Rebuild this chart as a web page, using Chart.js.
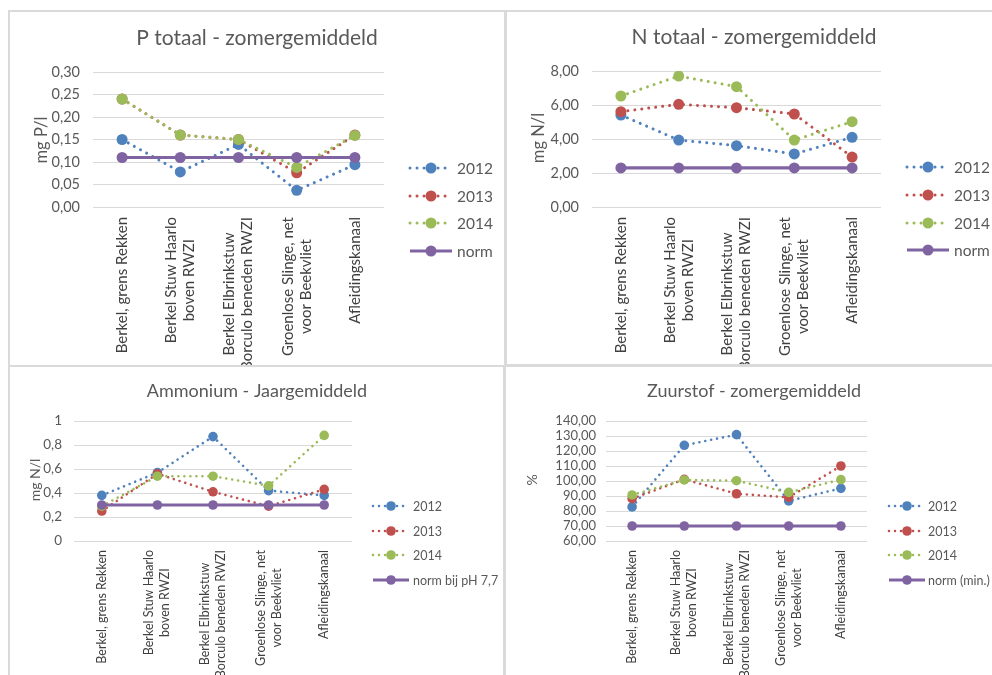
<!DOCTYPE html>
<html>
<head>
<meta charset="utf-8">
<script src="https://cdn.jsdelivr.net/npm/chart.js@4"></script>
<style>
  html, body { margin: 0; padding: 0; background: #ffffff; }
  body { width: 992px; height: 675px; position: relative; overflow: hidden; }
  canvas { position: absolute; }
  .frame { position: absolute; box-sizing: border-box; border: 2px solid #DADADA; pointer-events: none; }
</style>
</head>
<body>
<canvas id="c1" width="497" height="356" style="left:8px;top:10px"></canvas>
<canvas id="c2" width="487" height="355" style="left:505px;top:10px"></canvas>
<canvas id="c3" width="496" height="309" style="left:8px;top:366px"></canvas>
<canvas id="c4" width="488" height="309" style="left:504px;top:366px"></canvas>
<div class="frame" style="left:8px;top:10px;width:498px;height:357px"></div>
<div class="frame" style="left:505px;top:10px;width:500px;height:356px"></div>
<div class="frame" style="left:8px;top:365px;width:497px;height:320px"></div>
<div class="frame" style="left:504px;top:365px;width:500px;height:320px"></div>
<script>
// ---------- data ----------
const categories = [
  ["Berkel, grens Rekken"],
  ["Berkel Stuw Haarlo", "boven RWZI"],
  ["Berkel Elbrinkstuw", "Borculo beneden RWZI"],
  ["Groenlose Slinge, net", "voor Beekvliet"],
  ["Afleidingskanaal"]
];
const seriesNames = ["2012", "2013", "2014"];

const pTotaal2012 = [0.150, 0.078, 0.139, 0.037, 0.094];
const pTotaal2013 = [0.240, 0.160, 0.150, 0.076, 0.160];
const pTotaal2014 = [0.240, 0.160, 0.150, 0.088, 0.159];
const pTotaalNorm = [0.11, 0.11, 0.11, 0.11, 0.11];

const nTotaal2012 = [5.41, 3.94, 3.61, 3.12, 4.10];
const nTotaal2013 = [5.61, 6.04, 5.84, 5.47, 2.94];
const nTotaal2014 = [6.53, 7.70, 7.08, 3.94, 5.02];
const nTotaalNorm = [2.3, 2.3, 2.3, 2.3, 2.3];

const ammonium2012 = [0.38, 0.57, 0.87, 0.42, 0.38];
const ammonium2013 = [0.25, 0.56, 0.41, 0.29, 0.43];
const ammonium2014 = [0.29, 0.54, 0.54, 0.46, 0.88];
const ammoniumNorm = [0.30, 0.30, 0.30, 0.30, 0.30];

const zuurstof2012 = [82.7, 123.8, 130.9, 86.7, 95.1];
const zuurstof2013 = [88.2, 101.1, 91.5, 89.1, 110.0];
const zuurstof2014 = [90.7, 100.7, 100.2, 92.4, 100.9];
const zuurstofNorm = [70, 70, 70, 70, 70];

const pTicks = { min: 0, max: 0.30, step: 0.05 };
const nTicks = { min: 0, max: 8, step: 2 };
const aTicks = { min: 0, max: 1, step: 0.2 };
const zTicks = { min: 60, max: 140, step: 10 };

// ---------- style ----------
const COLORS = ["#4F81BD", "#C0504D", "#9BBB59", "#8064A2"];
const TEXT = "#595959";
const FONT = "Lato, 'Liberation Sans', sans-serif";

function fmt2(v) { return v.toFixed(2).replace(".", ","); }
function fmtShort(v) { return String(Number(v.toFixed(1))).replace(".", ","); }

const decorPlugin = {
  id: "decor",
  afterDraw(chart, args, o) {
    const ctx = chart.ctx;
    ctx.save();
    ctx.fillStyle = TEXT;
    // title
    ctx.font = o.titleSize + "px " + FONT;
    ctx.textAlign = "center";
    ctx.textBaseline = "middle";
    ctx.fillText(o.title, o.titleX, o.titleY);
    // y axis title
    ctx.save();
    ctx.font = o.yTitleSize + "px " + FONT;
    ctx.translate(o.yTitleX, o.yTitleY);
    ctx.rotate(-Math.PI / 2);
    ctx.fillText(o.yTitle, 0, 0);
    ctx.restore();
    // x category labels (rotated, block ending near axis, lines centered)
    const xs = chart.scales.x;
    const yEnd = chart.chartArea.bottom + o.xLabelGap;
    ctx.font = o.xSize + "px " + FONT;
    ctx.fillStyle = "#404040";
    categories.forEach((lines, i) => {
      const x = xs.getPixelForValue(i);
      const w = Math.max(...lines.map(l => ctx.measureText(l).width));
      ctx.save();
      ctx.translate(x, yEnd);
      ctx.rotate(-Math.PI / 2);
      lines.forEach((l, k) => {
        const dy = (k - (lines.length - 1) / 2) * o.xLineSpacing;
        ctx.fillText(l, -w / 2, dy);
      });
      ctx.restore();
    });
    // legend
    ctx.font = o.legendSize + "px " + FONT;
    ctx.textAlign = "left";
    ctx.fillStyle = TEXT;
    chart.data.datasets.forEach((ds, i) => {
      const y = o.legendRows[i];
      ctx.save();
      ctx.strokeStyle = ds.borderColor;
      ctx.lineWidth = ds.borderWidth;
      ctx.lineCap = ds.borderDash && ds.borderDash.length ? "round" : "butt";
      ctx.setLineDash(ds.borderDash || []);
      ctx.beginPath();
      ctx.moveTo(o.legendX - o.legendHalf, y);
      ctx.lineTo(o.legendX + o.legendHalf, y);
      ctx.stroke();
      ctx.setLineDash([]);
      ctx.fillStyle = ds.pointBackgroundColor;
      ctx.beginPath();
      ctx.arc(o.legendX, y, ds.pointRadius, 0, Math.PI * 2);
      ctx.fill();
      ctx.restore();
      ctx.fillText(ds.label, o.legendTextX, y + 1);
    });
    ctx.restore();
  }
};

function makeDatasets(values, normLabel, big) {
  const lw = big ? 3 : 2.6;
  const dash = big ? [0.01, 7] : [0.01, 6];
  const r = big ? 5.5 : 4.8;
  const ds = values.slice(0, 3).map((v, i) => ({
    label: seriesNames[i],
    data: v,
    borderColor: COLORS[i],
    backgroundColor: COLORS[i],
    pointBackgroundColor: COLORS[i],
    pointBorderColor: COLORS[i],
    pointBorderWidth: 0,
    borderWidth: lw,
    borderDash: dash,
    borderCapStyle: "round",
    pointRadius: r,
    tension: 0,
    order: 3 - i,
    fill: false
  }));
  ds.push({
    label: normLabel,
    data: values[3],
    borderColor: COLORS[3],
    backgroundColor: COLORS[3],
    pointBackgroundColor: COLORS[3],
    pointBorderColor: COLORS[3],
    pointBorderWidth: 0,
    borderWidth: big ? 3.2 : 3,
    borderDash: [],
    pointRadius: r,
    tension: 0,
    order: 0,
    fill: false
  });
  return ds;
}

function makeChart(id, values, normLabel, ticks, fmt, geo, decor, big) {
  const canvas = document.getElementById(id);
  const W = canvas.width, H = canvas.height;
  return new Chart(canvas, {
    type: "line",
    data: { labels: categories, datasets: makeDatasets(values, normLabel, big) },
    options: {
      responsive: false,
      animation: false,
      events: [],
      layout: { padding: { left: 0, top: geo.top, right: W - geo.right, bottom: H - geo.bottom } },
      plugins: { legend: { display: false }, title: { display: false }, tooltip: { enabled: false }, decor: decor },
      scales: {
        x: { type: "category", offset: true, display: false },
        y: {
          min: ticks.min, max: ticks.max,
          afterFit(scale) { scale.width = geo.left; },
          ticks: {
            stepSize: ticks.step,
            autoSkip: false,
            padding: geo.tickPad,
            color: TEXT,
            font: { family: FONT, size: geo.tickSize },
            callback: (v) => fmt(v)
          },
          grid: { color: "#D9D9D9", lineWidth: 1, drawTicks: false },
          border: { display: false }
        }
      }
    },
    plugins: [decorPlugin]
  });
}

makeChart("c1", [pTotaal2012, pTotaal2013, pTotaal2014, pTotaalNorm], "norm", pTicks, fmt2,
  { left: 85, right: 376, top: 62, bottom: 197, tickPad: 13, tickSize: 14.5 },
  { title: "P totaal - zomergemiddeld", titleSize: 21, titleX: 249, titleY: 28,
    yTitle: "mg P/l", yTitleSize: 16.5, yTitleX: 34, yTitleY: 130,
    xSize: 15, xLineSpacing: 18, xLabelGap: 10,
    legendSize: 15.5, legendX: 423, legendHalf: 21, legendTextX: 449, legendRows: [158, 186, 213, 241] }, true);

makeChart("c2", [nTotaal2012, nTotaal2013, nTotaal2014, nTotaalNorm], "norm", nTicks, fmt2,
  { left: 87, right: 376, top: 61, bottom: 197, tickPad: 13, tickSize: 14.5 },
  { title: "N totaal - zomergemiddeld", titleSize: 21, titleX: 249, titleY: 27,
    yTitle: "mg N/l", yTitleSize: 16.5, yTitleX: 34, yTitleY: 128,
    xSize: 15, xLineSpacing: 18, xLabelGap: 10,
    legendSize: 15.5, legendX: 423, legendHalf: 21, legendTextX: 449, legendRows: [157, 185, 213, 240] }, true);

makeChart("c3", [ammonium2012, ammonium2013, ammonium2014, ammoniumNorm], "norm bij pH 7,7", aTicks, fmtShort,
  { left: 66, right: 344, top: 55, bottom: 175, tickPad: 12, tickSize: 13.5 },
  { title: "Ammonium - Jaargemiddeld", titleSize: 18, titleX: 249, titleY: 25,
    yTitle: "mg N/l", yTitleSize: 14, yTitleX: 27, yTitleY: 114,
    xSize: 12.5, xLineSpacing: 16, xLabelGap: 9,
    legendSize: 12.5, legendX: 383, legendHalf: 18, legendTextX: 405, legendRows: [140, 165, 189, 214] }, false);

makeChart("c4", [zuurstof2012, zuurstof2013, zuurstof2014, zuurstofNorm], "norm (min.)", zTicks, fmt2,
  { left: 102, right: 363, top: 55, bottom: 175, tickPad: 10, tickSize: 13 },
  { title: "Zuurstof - zomergemiddeld", titleSize: 18, titleX: 250, titleY: 25,
    yTitle: "%", yTitleSize: 14, yTitleX: 28, yTitleY: 114,
    xSize: 12.5, xLineSpacing: 16, xLabelGap: 9,
    legendSize: 12.5, legendX: 403, legendHalf: 18, legendTextX: 424, legendRows: [140, 165, 189, 214] }, false);
</script>
</body>
</html>
